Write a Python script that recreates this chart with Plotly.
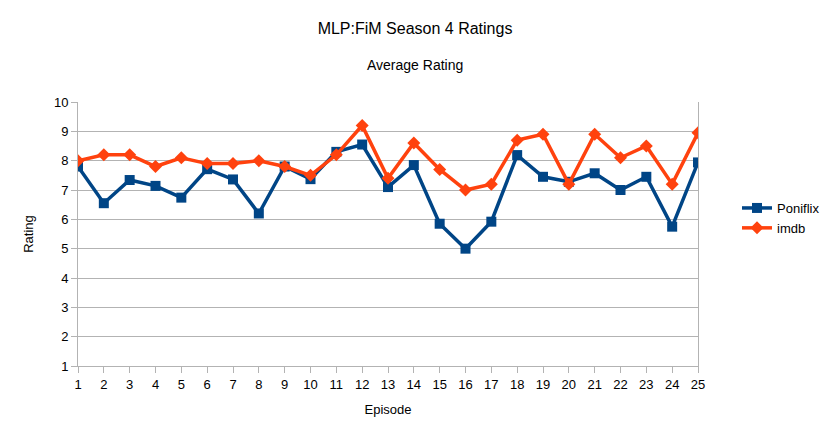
import plotly.graph_objects as go

episodes = list(range(1, 26))
poniflix = [7.8, 6.55, 7.34, 7.14, 6.74, 7.71, 7.36, 6.2, 7.8, 7.37, 8.3, 8.55,
            7.1, 7.85, 5.85, 5.0, 5.92, 8.19, 7.45, 7.28, 7.57, 7.0, 7.45, 5.75, 7.94]
imdb = [8.0, 8.2, 8.2, 7.8, 8.1, 7.9, 7.9, 8.0, 7.8, 7.5, 8.2, 9.2,
        7.4, 8.6, 7.7, 7.0, 7.2, 8.7, 8.9, 7.2, 8.9, 8.1, 8.5, 7.2, 8.95]

FONT = "Liberation Sans, Arial, sans-serif"
GRID = "#b3b3b3"

# page body has an 8px default margin; compensate so the chart lands where the reference has it
OFF = 8
W, H = 831, 436
L, R, T, B = 78 - OFF, W - (698 - OFF), 102 - OFF, H - (366 - OFF)
PW, PH = W - L - R, H - T - B
CX = 415 - OFF  # horizontal centre of title texts in figure coordinates

fig = go.Figure()
fig.add_trace(go.Scatter(x=episodes, y=poniflix, name="Poniflix", mode="lines+markers",
                         line=dict(color="#004586", width=3.5),
                         marker=dict(symbol="square", size=10, color="#004586")))
fig.add_trace(go.Scatter(x=episodes, y=imdb, name="imdb", mode="lines+markers",
                         line=dict(color="#ff420e", width=3.5),
                         marker=dict(symbol="diamond", size=10, color="#ff420e")))

fig.update_layout(
    width=W, height=H,
    margin=dict(l=L, r=R, t=T, b=B, autoexpand=False),
    paper_bgcolor="white", plot_bgcolor="white",
    font=dict(family=FONT, size=13, color="black"),
    title=dict(text="MLP:FiM Season 4 Ratings", x=CX / W, xanchor="center", xref="container",
               y=1 - (28 - OFF) / H, yanchor="middle", font=dict(size=16)),
    annotations=[dict(text="Average Rating", xref="paper", yref="paper", x=(CX - L) / PW,
                      y=((366 - OFF) - (65 - OFF)) / PH, showarrow=False,
                      yanchor="middle", font=dict(size=14))],
    legend=dict(x=(737 - OFF - L) / PW, y=(366 - 218) / PH, xanchor="left", yanchor="middle",
                font=dict(size=13), tracegroupgap=0),
    showlegend=True,
)

fig.update_xaxes(range=[1, 25], tickmode="array", tickvals=episodes,
                 ticks="outside", ticklen=6, tickcolor=GRID,
                 showline=True, linecolor=GRID, linewidth=1, mirror=False,
                 showgrid=False, zeroline=False,
                 title=dict(text="Episode", standoff=14, font=dict(size=13)))
fig.update_yaxes(range=[1, 10], tickmode="array", tickvals=list(range(1, 11)),
                 ticks="outside", ticklen=6, tickcolor=GRID,
                 showline=True, linecolor=GRID, linewidth=1, mirror=True,
                 showgrid=True, gridcolor=GRID, gridwidth=1, zeroline=False,
                 title=dict(text="Rating", standoff=17, font=dict(size=13)))

fig.write_html("out.html")
